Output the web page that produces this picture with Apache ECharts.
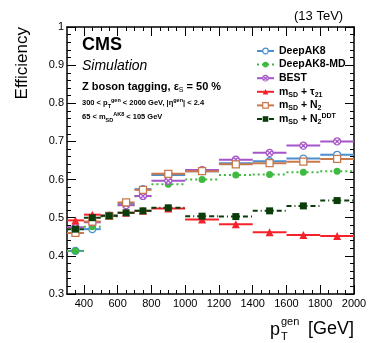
<!DOCTYPE html>
<html>
<head>
<meta charset="utf-8">
<script src="https://cdn.jsdelivr.net/npm/echarts@6/dist/echarts.min.js"></script>
<style>
  html, body {margin: 0; padding: 0; background: #fff;}
  #r-canvas {width: 374px; height: 343px;}
</style>
</head>
<body>
<div id="r-canvas"></div>
<script>
// pT bins (GeV)
var binEdges = [300, 400, 500, 600, 700, 800, 1000, 1200, 1400, 1600, 1800, 2000]
var binCenters = [350, 450, 550, 650, 750, 900, 1100, 1300, 1500, 1700, 1900]

// efficiency per bin
var deepAK8 = [0.413, 0.470, 0.505, 0.538, 0.575, 0.612, 0.622, 0.643, 0.648, 0.655, 0.665]
var deepAK8MD = [0.413, 0.476, 0.503, 0.533, 0.556, 0.588, 0.600, 0.612, 0.613, 0.619, 0.622]
var best = [0.475, 0.488, 0.505, 0.533, 0.557, 0.597, 0.625, 0.652, 0.670, 0.689, 0.700]
var msdTau21 = [0.493, 0.508, 0.505, 0.513, 0.518, 0.524, 0.495, 0.483, 0.462, 0.455, 0.452]
var msdN2 = [0.460, 0.490, 0.505, 0.540, 0.573, 0.615, 0.622, 0.640, 0.643, 0.647, 0.654]
var msdN2DDT = [0.470, 0.500, 0.505, 0.513, 0.518, 0.526, 0.504, 0.503, 0.518, 0.531, 0.545]

// axis ticks
var xTickLabels = [400, 600, 800, 1000, 1200, 1400, 1600, 1800, 2000]
var xMinorTicks = [350, 400, 450, 500, 550, 600, 650, 700, 750, 800, 850, 900, 950, 1000, 1050, 1100, 1150,
  1200, 1250, 1300, 1350, 1400, 1450, 1500, 1550, 1600, 1650, 1700, 1750, 1800, 1850, 1900, 1950]
var yTickLabels = [0.3, 0.4, 0.5, 0.6, 0.7, 0.8, 0.9, 1]

var FONT = 'Liberation Sans'

var crossCircle = 'path://M0,-10A10,10 0 1,1 0,10A10,10 0 1,1 0,-10ZM-7,-7L7,7M7,-7L-7,7'

var sets = [
  {name: 'DeepAK8', data: deepAK8, color: '#4a8fd0', dash: null, symbol: 'circle', hollow: true},
  {name: 'DeepAK8-MD', data: deepAK8MD, color: '#3fb93f', dash: [2, 3], symbol: 'circle', hollow: false},
  {name: 'BEST', data: best, color: '#a555c8', dash: null, symbol: crossCircle, hollow: true},
  {name: 'msdTau21', data: msdTau21, color: '#f5222a', dash: null, symbol: 'triangle', hollow: false},
  {name: 'msdN2', data: msdN2, color: '#c8784a', dash: null, symbol: 'rect', hollow: true},
  {name: 'msdN2DDT', data: msdN2DDT, color: '#0b3d0b', dash: [5, 3, 1, 3], symbol: 'rect', hollow: false}
]

var legendText = {
  'DeepAK8': 'DeepAK8',
  'DeepAK8-MD': 'DeepAK8-MD',
  'BEST': 'BEST',
  'msdTau21': 'm{sub|SD} + {t|τ}{sub|21}',
  'msdN2': 'm{sub|SD} + N{sub|2}',
  'msdN2DDT': 'm{sub|SD} + N{sub|2}{sup|DDT}'
}

var myChart = echarts.init(document.getElementById('r-canvas'))

function barItem (color, dash) {
  return function (params, api) {
    var lo = api.coord([api.value(0), api.value(2)])
    var hi = api.coord([api.value(1), api.value(2)])
    return {
      type: 'line',
      shape: {x1: lo[0], y1: lo[1], x2: hi[0], y2: hi[1]},
      style: {stroke: color, lineWidth: 2, lineDash: dash}
    }
  }
}

var series = []
var legendData = []
sets.forEach(function (s) {
  series.push({
    type: 'custom',
    name: s.name + '-bar',
    renderItem: barItem(s.color, s.dash),
    encode: {x: [0, 1], y: 2},
    data: s.data.map(function (v, i) { return [binEdges[i], binEdges[i + 1], v] }),
    silent: true
  })
  series.push({
    type: 'line',
    name: s.name,
    data: s.data.map(function (v, i) { return [binCenters[i], v] }),
    symbol: s.symbol,
    symbolSize: s.symbol === 'triangle' ? 8 : 7,
    lineStyle: {opacity: 0},
    itemStyle: {
      color: s.hollow ? '#fff' : s.color,
      borderColor: s.color,
      borderWidth: s.hollow ? 1.3 : 0
    },
    animation: false
  })
  legendData.push({
    name: s.name,
    lineStyle: {color: s.color, width: 2, opacity: 1, type: s.dash || 'solid'},
    itemStyle: {color: s.hollow ? '#fff' : s.color, borderColor: s.color, borderWidth: s.hollow ? 1.2 : 0}
  })
})

var sub = {fontSize: 7, fontWeight: 'bold', fontFamily: FONT, verticalAlign: 'bottom', lineHeight: 7}
var sup = {fontSize: 7, fontWeight: 'bold', fontFamily: FONT, verticalAlign: 'top', lineHeight: 7}

function smallRich () {
  return {
    s: {fontSize: 5.5, fontWeight: 'bold', fontFamily: FONT, verticalAlign: 'bottom', lineHeight: 5.5},
    u: {fontSize: 5.5, fontWeight: 'bold', fontFamily: FONT, verticalAlign: 'top', lineHeight: 5.5}
  }
}

var option = {
  animation: false,
  grid: {left: 67, right: 20, top: 27, bottom: 49},
  legend: {
    orient: 'vertical',
    left: 256,
    top: 44.5,
    padding: 0,
    itemWidth: 17,
    itemHeight: 7,
    itemGap: 0.6,
    data: legendData,
    formatter: function (name) { return legendText[name] },
    textStyle: {
      fontFamily: FONT, fontWeight: 'bold', fontSize: 10.5, color: '#000', lineHeight: 13,
      rich: {
        sub: sub,
        sup: sup,
        t: {fontSize: 10.5, fontWeight: 'bold', fontFamily: FONT, lineHeight: 13}
      }
    }
  },
  xAxis: [
    {
      type: 'value', position: 'bottom', min: 300, max: 2000, interval: 100,
      splitLine: {show: false},
      axisLine: {lineStyle: {color: '#000', width: 1.5}},
      axisTick: {inside: true, length: 9, customValues: xTickLabels, lineStyle: {color: '#000'}},
      axisLabel: {
        customValues: xTickLabels, color: '#000', fontFamily: FONT, fontSize: 11, margin: 4,
        formatter: function (v) { return String(v) }
      }
    },
    {
      type: 'value', position: 'bottom', min: 300, max: 2000,
      splitLine: {show: false}, axisLine: {show: false}, axisLabel: {show: false},
      axisTick: {inside: true, length: 4, customValues: xMinorTicks, lineStyle: {color: '#000'}}
    },
    {
      type: 'value', position: 'top', min: 300, max: 2000, interval: 100,
      splitLine: {show: false},
      axisLine: {lineStyle: {color: '#000', width: 1.5}},
      axisLabel: {show: false},
      axisTick: {inside: true, length: 9, customValues: xTickLabels, lineStyle: {color: '#000'}}
    },
    {
      type: 'value', position: 'top', min: 300, max: 2000,
      splitLine: {show: false}, axisLine: {show: false}, axisLabel: {show: false},
      axisTick: {inside: true, length: 4, customValues: xMinorTicks, lineStyle: {color: '#000'}}
    }
  ],
  yAxis: [
    {
      type: 'value', position: 'left', min: 0.3, max: 1, interval: 0.1,
      splitLine: {show: false},
      axisLine: {lineStyle: {color: '#000', width: 1.5}},
      axisTick: {inside: true, length: 9, lineStyle: {color: '#000'}},
      minorTick: {show: true, splitNumber: 5, length: 4, lineStyle: {color: '#000'}},
      axisLabel: {
        color: '#000', fontFamily: FONT, fontSize: 11, margin: 3,
        formatter: function (v) { return Math.abs(v - 1) < 1e-6 ? '1' : v.toFixed(1) }
      }
    },
    {
      type: 'value', position: 'right', min: 0.3, max: 1, interval: 0.1,
      splitLine: {show: false},
      axisLine: {lineStyle: {color: '#000', width: 1.5}},
      axisTick: {inside: true, length: 9, lineStyle: {color: '#000'}},
      minorTick: {show: true, splitNumber: 5, length: 4, lineStyle: {color: '#000'}},
      axisLabel: {show: false}
    }
  ],
  graphic: [
    {type: 'text', left: 294, top: 10, style: {text: '(13 TeV)', fontFamily: FONT, fontSize: 13, fill: '#000'}},
    {type: 'text', left: 82, top: 36, style: {text: 'CMS', fontFamily: FONT, fontSize: 18, fontWeight: 'bold', fill: '#000'}},
    {type: 'text', left: 82, top: 59, style: {text: 'Simulation', fontFamily: FONT, fontSize: 14, fontStyle: 'italic', fill: '#000'}},
    {
      type: 'text', left: 82, top: 79,
      style: {
        text: 'Z boson tagging, ε{s|S} = 50 %', fontFamily: FONT, fontSize: 11, fontWeight: 'bold', fill: '#000', lineHeight: 15,
        rich: {s: {fontSize: 7, fontFamily: FONT, verticalAlign: 'bottom', lineHeight: 7}}
      }
    },
    {
      type: 'text', left: 82, top: 97,
      style: {
        text: '300 < p{s|T}{u|gen} < 2000 GeV, |η{u|gen}| < 2.4', fontFamily: FONT, fontSize: 7.5, fontWeight: 'bold', fill: '#000', lineHeight: 12,
        rich: smallRich()
      }
    },
    {
      type: 'text', left: 82, top: 111,
      style: {
        text: '65 < m{s|SD}{u|AK8} < 105 GeV', fontFamily: FONT, fontSize: 7.5, fontWeight: 'bold', fill: '#000', lineHeight: 12,
        rich: smallRich()
      }
    },
    {
      type: 'text', x: 22, y: 27, rotation: Math.PI / 2,
      style: {text: 'Efficiency', fontFamily: FONT, fontSize: 17, fill: '#000', align: 'right', verticalAlign: 'middle'}
    },
    {type: 'text', x: 270, y: 330, style: {text: 'p', fontFamily: FONT, fontSize: 18, fill: '#000', verticalAlign: 'middle'}},
    {type: 'text', x: 281, y: 322, style: {text: 'gen', fontFamily: FONT, fontSize: 11, fill: '#000', verticalAlign: 'middle'}},
    {type: 'text', x: 281, y: 337, style: {text: 'T', fontFamily: FONT, fontSize: 11, fill: '#000', verticalAlign: 'middle'}},
    {type: 'text', x: 354, y: 329, style: {text: '[GeV]', fontFamily: FONT, fontSize: 18, fill: '#000', align: 'right', verticalAlign: 'middle'}}
  ],
  series: series
}

myChart.setOption(option)
</script>
</body>
</html>
